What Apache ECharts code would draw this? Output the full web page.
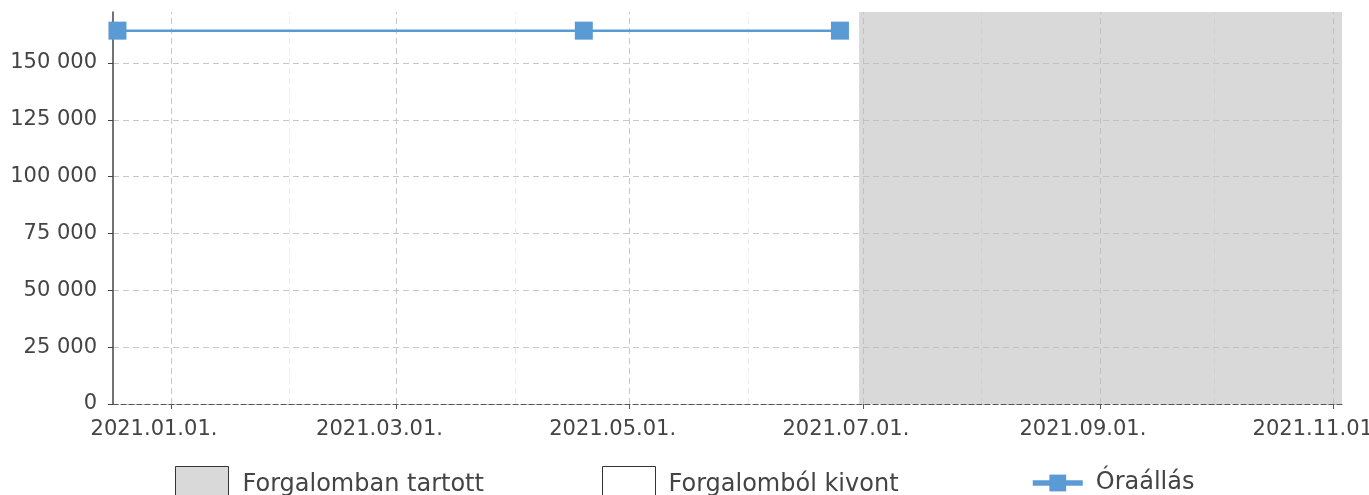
<!DOCTYPE html>
<html>
<head>
<meta charset="utf-8">
<script src="https://cdn.jsdelivr.net/npm/echarts@6/dist/echarts.min.js"></script>
<style>
    html, body { margin: 0; padding: 0; background: #fff; }
    #chart { width: 1369px; height: 495px; }
</style>
</head>
<body>
<div id="chart"></div>
<script>
    // meter readings (Óraállás)
    const readingDates = ['2020-12-18', '2021-04-19', '2021-06-25'];
    const readingValues = [164200, 164200, 164200];

    // status periods
    const withdrawnPeriod = ['2020-12-16T20:00', '2021-06-30T00:00'];
    const inServicePeriod = ['2021-06-30T00:00', '2021-11-03T08:00'];

    // x axis
    const xMin = '2020-12-16T20:00';
    const xMax = '2021-11-03T08:00';
    const majorMonths = ['2021-01-01', '2021-03-01', '2021-05-01', '2021-07-01', '2021-09-01', '2021-11-01'];
    const minorMonths = ['2021-02-01', '2021-04-01', '2021-06-01', '2021-08-01', '2021-10-01'];

    // y axis
    const yMax = 172400;
    const yTicks = [0, 25000, 50000, 75000, 100000, 125000, 150000];

    const toTime = s => new Date(s.length === 10 ? s + 'T00:00' : s).getTime();

    function fmtDate(v) {
        let d = new Date(v);
        let mm = String(d.getMonth() + 1).padStart(2, '0');
        let dd = String(d.getDate()).padStart(2, '0');
        return d.getFullYear() + '.' + mm + '.' + dd + '.';
    }

    function fmtNum(v) {
        return String(v).replace(/\B(?=(\d{3})+(?!\d))/g, ' ');
    }

    let font = 'DejaVu Sans';
    let chart = echarts.init(document.getElementById('chart'));

    let vLines = majorMonths.map(m => ({xAxis: toTime(m), lineStyle: {color: '#c8c8c8'}}))
        .concat(minorMonths.map(m => ({xAxis: toTime(m), lineStyle: {color: '#ededed'}})));

    let legendText = {fontFamily: font, fontSize: 24, color: '#444'};

    let option = {
        animation: false,
        grid: {left: 113, right: 27, top: 12, bottom: 91, outerBoundsMode: 'none', containLabel: false},
        xAxis: {
            type: 'value',
            min: toTime(xMin),
            max: toTime(xMax),
            axisLine: {lineStyle: {color: '#555', type: [5, 3], width: 1}},
            axisTick: {show: true, length: 5, lineStyle: {color: '#555'}, customValues: majorMonths.map(toTime)},
            axisLabel: {
                customValues: majorMonths.map(toTime),
                formatter: fmtDate,
                color: '#444',
                fontFamily: font,
                fontSize: 21,
                margin: 15,
                padding: [0, 34, 0, 0],
                hideOverlap: false
            },
            splitLine: {show: false}
        },
        yAxis: {
            type: 'value',
            min: 0,
            max: yMax,
            axisLine: {show: true, lineStyle: {color: '#444', width: 1.5}},
            axisTick: {show: true, length: 5, lineStyle: {color: '#444'}, customValues: yTicks},
            axisLabel: {
                customValues: yTicks,
                formatter: fmtNum,
                color: '#444',
                fontFamily: font,
                fontSize: 21,
                margin: 16,
                padding: [10, 0, 0, 0]
            },
            splitLine: {show: true, lineStyle: {color: '#c8c8c8', type: [6, 4]}}
        },
        legend: [
            {
                data: [{name: 'Forgalomban tartott', icon: 'rect', itemStyle: {color: '#d9d9d9', borderColor: '#333', borderWidth: 1}}],
                left: 175, top: 466, padding: 0, itemWidth: 53, itemHeight: 36,
                textStyle: Object.assign({padding: [0, 0, 0, 9]}, legendText)
            },
            {
                data: [{name: 'Forgalomból kivont', icon: 'rect', itemStyle: {color: '#ffffff', borderColor: '#333', borderWidth: 1}}],
                left: 602, top: 466, padding: 0, itemWidth: 53, itemHeight: 36,
                textStyle: Object.assign({padding: [0, 0, 0, 8]}, legendText)
            },
            {
                data: ['Óraállás'],
                left: 1030, top: 471, padding: 0, itemWidth: 50, itemHeight: 21,
                lineStyle: {width: 5.5},
                textStyle: Object.assign({padding: [0, 0, 0, 8]}, legendText)
            }
        ],
        series: [
            {
                name: 'grid',
                type: 'line',
                data: [],
                z: 1,
                markLine: {
                    silent: true,
                    z: 1,
                    symbol: 'none',
                    label: {show: false},
                    lineStyle: {type: [6, 4], width: 1},
                    data: vLines
                }
            },
            {
                name: 'Forgalomban tartott',
                type: 'line',
                data: [],
                z: 2,
                itemStyle: {color: '#d9d9d9'},
                markArea: {
                    silent: true,
                    z: 2,
                    itemStyle: {color: 'rgba(188, 188, 188, 0.57)'},
                    data: [[{xAxis: toTime(inServicePeriod[0])}, {xAxis: toTime(inServicePeriod[1])}]]
                }
            },
            {
                name: 'Forgalomból kivont',
                type: 'line',
                data: [],
                z: 2,
                itemStyle: {color: '#ffffff'},
                markArea: {
                    silent: true,
                    z: 2,
                    itemStyle: {color: 'rgba(255, 255, 255, 0)'},
                    data: [[{xAxis: toTime(withdrawnPeriod[0])}, {xAxis: toTime(withdrawnPeriod[1])}]]
                }
            },
            {
                name: 'Óraállás',
                type: 'line',
                z: 5,
                data: readingDates.map((d, i) => [toTime(d), readingValues[i]]),
                symbol: 'rect',
                symbolSize: 18,
                color: '#5b9bd5',
                lineStyle: {width: 2.5, color: '#5b9bd5'},
                itemStyle: {color: '#5b9bd5', opacity: 1}
            }
        ]
    };

    chart.setOption(option);
</script>
</body>
</html>
